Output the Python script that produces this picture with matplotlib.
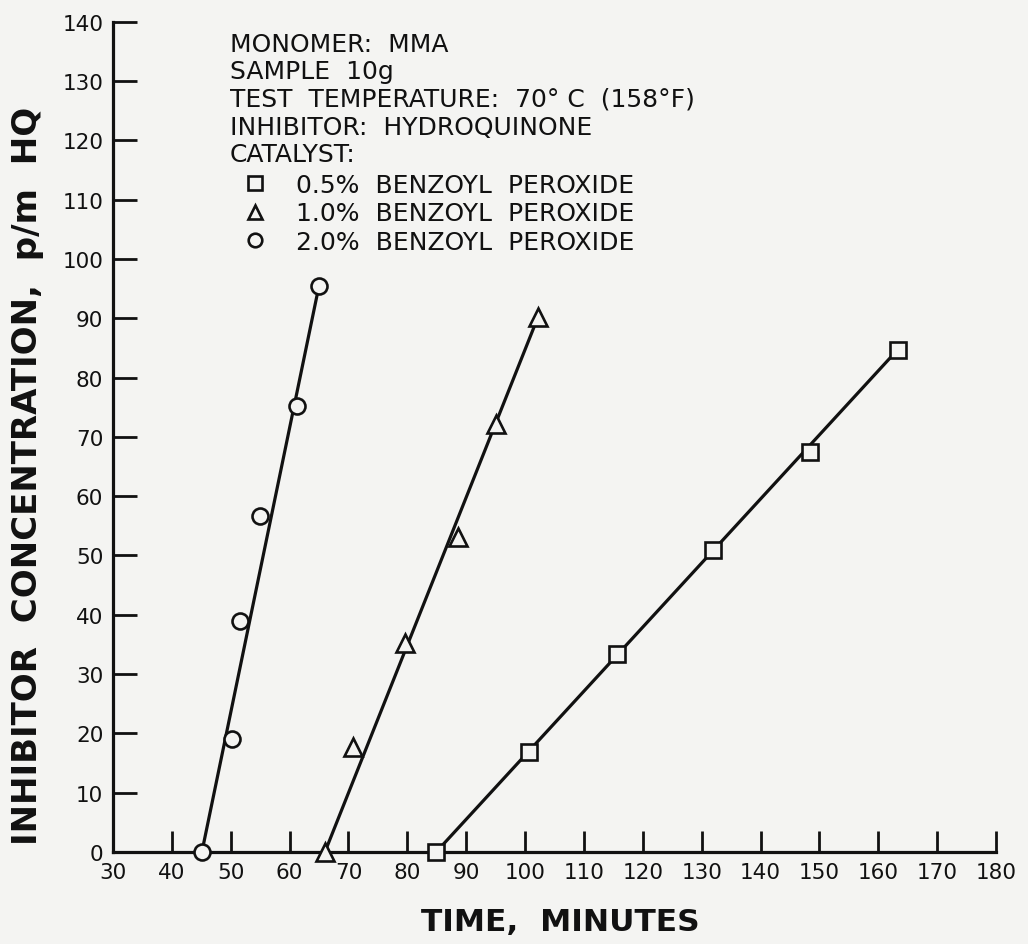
import matplotlib
matplotlib.use("Agg")
import matplotlib.pyplot as plt

# ---- data ----
time_05 = [84.9, 100.7, 115.6, 131.9, 148.4, 163.3]
conc_05 = [0.0, 16.9, 33.4, 50.9, 67.5, 84.7]
time_10 = [66.0, 70.8, 79.6, 88.6, 95.1, 102.2]
conc_10 = [0.0, 17.7, 35.3, 53.1, 72.2, 90.2]
time_20 = [45.1, 50.2, 51.6, 54.9, 61.2, 65.0]
conc_20 = [0.0, 19.0, 39.0, 56.7, 75.2, 95.5]

series_labels = ["0.5%  BENZOYL  PEROXIDE", "1.0%  BENZOYL  PEROXIDE", "2.0%  BENZOYL  PEROXIDE"]
x_ticks = list(range(30, 181, 10))
y_ticks = list(range(0, 141, 10))
notes = ["MONOMER:  MMA", "SAMPLE  10g", "TEST  TEMPERATURE:  70° C  (158°F)",
         "INHIBITOR:  HYDROQUINONE", "CATALYST:"]

INK = "#111111"
BG = "#f4f4f2"
W, H = 1028, 945

fig = plt.figure(figsize=(W / 100, H / 100), dpi=100, facecolor=BG)
ax = fig.add_axes([113 / W, 1 - 853 / H, (996 - 113) / W, (853 - 22.7) / H])
ax.set_facecolor(BG)

series = [(time_05, conc_05, "s", 11.5), (time_10, conc_10, "^", 12.5), (time_20, conc_20, "o", 11.5)]
for (xs, ys, mk, ms), lab in zip(series, series_labels):
    ax.plot([xs[0], xs[-1]], [ys[0], ys[-1]], color=INK, lw=2.3, zorder=2,
            solid_capstyle="butt", clip_on=False)
    ax.plot(xs, ys, ls="none", marker=mk, ms=ms, mfc=BG, mec=INK, mew=1.9,
            zorder=3, clip_on=False, label=lab)

ax.set_xlim(30, 180)
ax.set_ylim(0, 140)
ax.set_xticks(x_ticks)
ax.set_yticks(y_ticks)
ax.tick_params(axis="both", direction="in", width=2.0, color=INK, labelcolor=INK, labelsize=15.5)
ax.tick_params(axis="x", length=15, pad=7)
ax.tick_params(axis="y", length=17, pad=7)
for s in ("top", "right"):
    ax.spines[s].set_visible(False)
for s in ("left", "bottom"):
    ax.spines[s].set_linewidth(2.3)
    ax.spines[s].set_color(INK)

# axis labels
fig.text(28 / W, 1 - 476 / H, "INHIBITOR  CONCENTRATION,  p/m  HQ", rotation=90,
         ha="center", va="center", fontsize=24.5, fontweight="bold", color=INK)
fig.text(560 / W, 1 - 923 / H, "TIME,  MINUTES", ha="center", va="center",
         fontsize=22.5, fontweight="bold", color=INK)

# annotation block
note_y = [45, 72, 100, 128, 155]
for txt, yy in zip(notes, note_y):
    fig.text(230 / W, 1 - yy / H, txt, ha="left", va="center", fontsize=18, color=INK)

leg = ax.legend(loc="upper left", bbox_to_anchor=(242 / W, 1 - 174 / H),
                bbox_transform=fig.transFigure, frameon=False, fontsize=18,
                handlelength=1.0, handletextpad=1.15, labelspacing=0.17,
                borderpad=0, borderaxespad=0, markerscale=0.85, numpoints=1)
for t in leg.get_texts():
    t.set_color(INK)

fig.savefig("out.png", dpi=100, facecolor=BG)
